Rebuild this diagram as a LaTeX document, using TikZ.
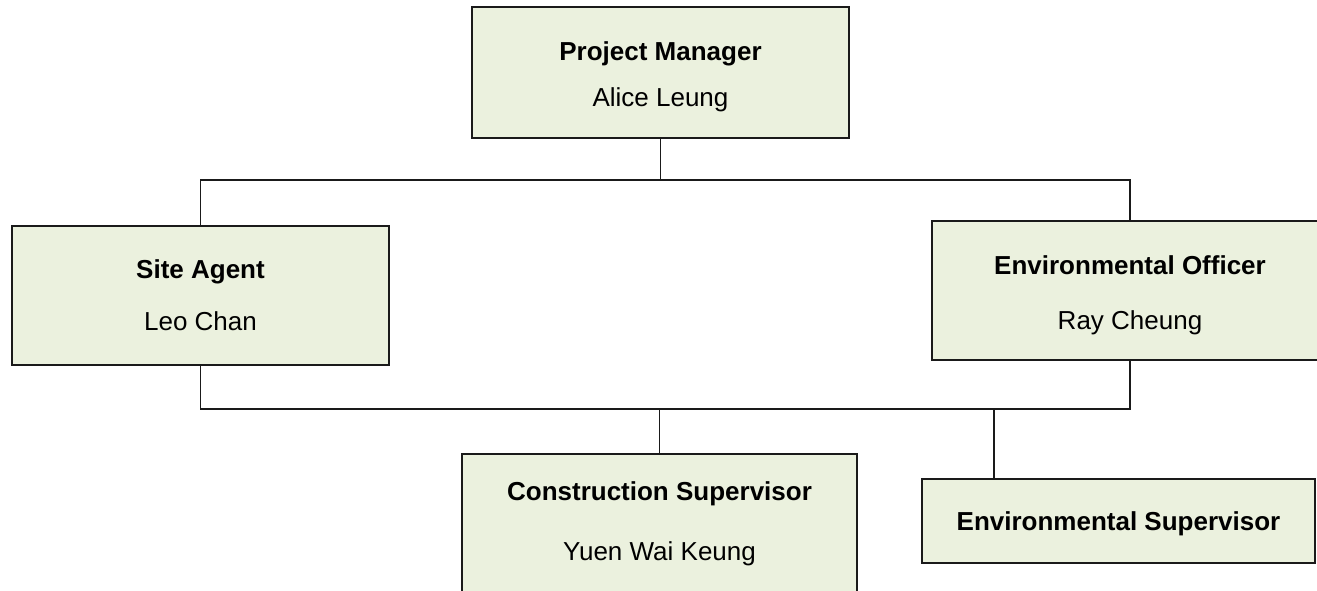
\documentclass[tikz,border=0pt]{standalone}
\usepackage{fontspec}
\setmainfont{Liberation Sans}
\definecolor{boxfill}{HTML}{EBF1DE}
\definecolor{boxline}{HTML}{1A1A1A}
\tikzset{
  rolebox/.style={draw=boxline,line width=1.6pt,fill=boxfill,inner sep=0pt,outer sep=0pt,
    align=center,font=\fontsize{26}{30}\selectfont},
  link/.style={draw=boxline,line width=1.6pt}
}

\begin{document}
\begin{tikzpicture}[x=1pt,y=-1pt]
        \useasboundingbox (0,0) rectangle (1317,590);
        \clip (0,0) rectangle (1317,590);

        \node[rolebox,minimum width=377pt,minimum height=131pt] (pm) at (660.5,72.5)
          {\rule{0pt}{27pt}\textbf{Project Manager}\\[16pt]Alice Leung};
        \node[rolebox,minimum width=377pt,minimum height=139pt] (sa) at (200.5,295.5)
          {\textbf{Site Agent}\\[22pt]Leo Chan};
        \node[rolebox,minimum width=396pt,minimum height=139pt] (eo) at (1130,290.5)
          {\rule{0pt}{29pt}\textbf{Environmental Officer}\\[25pt]Ray Cheung};
        \node[rolebox,minimum width=395pt,minimum height=140pt] (cs) at (659.5,524)
          {\textbf{Construction Supervisor}\\[30pt]Yuen Wai Keung};
        \node[rolebox,minimum width=393pt,minimum height=84pt] (es) at (1118.5,521)
          {\rule{0pt}{25pt}\textbf{Environmental Supervisor}};

        \draw[link] (pm.south) -- ++(0,42) coordinate (upbus);
        \draw[link] (sa.north) |- (upbus) -| (eo.north);

        \draw[link] (sa.south) -- ++(0,44) coordinate (lowbus) -| (eo.south);
        \draw[link] (cs.north) -- (cs.north |- lowbus);
        \coordinate (esin) at ([xshift=72pt]es.north west);
        \draw[link] (esin) -- (esin |- lowbus);
      \end{tikzpicture}
\end{document}
